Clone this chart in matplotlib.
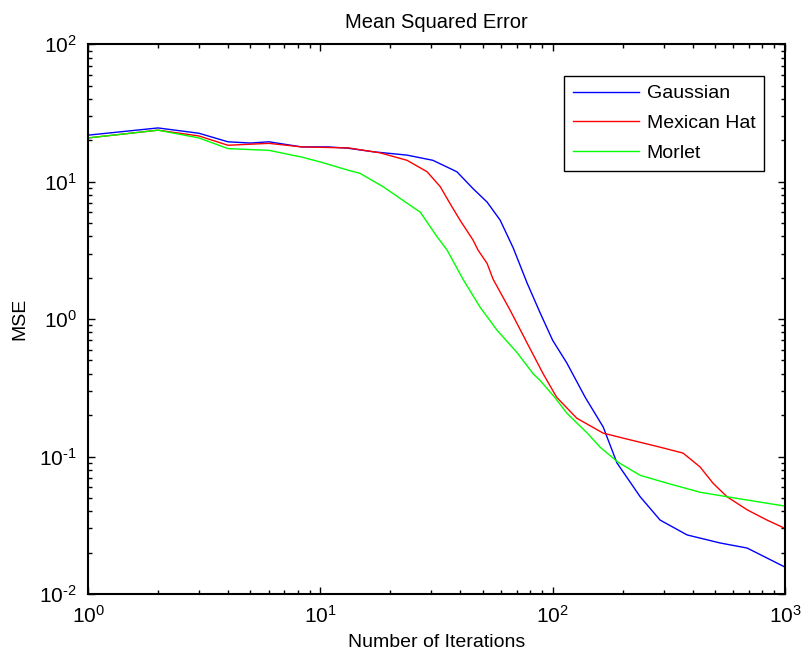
import numpy as np
import matplotlib
matplotlib.use("Agg")
import matplotlib.pyplot as plt
from matplotlib.ticker import FuncFormatter

plt.rcParams['font.family'] = ['Liberation Sans', 'DejaVu Sans']
plt.rcParams['mathtext.fontset'] = 'custom'
plt.rcParams['mathtext.rm'] = 'Liberation Sans'
plt.rcParams['mathtext.it'] = 'Liberation Sans:italic'
plt.rcParams['mathtext.bf'] = 'Liberation Sans:bold'

# iterations / MSE (log-log)
gauss_x = [1, 2, 3, 4, 5, 6, 8.3, 10.8, 13.2, 16.9, 23.6, 30.5, 38.7, 45.4,
           52.2, 59.4, 67.6, 77.6, 88.3, 100, 115, 138, 165, 189, 238, 290,
           379, 526, 687, 1000]
gauss_y = [21.8, 24.6, 22.5, 19.5, 19.1, 19.5, 17.9, 17.9, 17.5, 16.5, 15.6,
           14.3, 11.8, 8.9, 7.1, 5.25, 3.3, 1.83, 1.11, 0.70, 0.48, 0.27,
           0.164, 0.090, 0.051, 0.0345, 0.0269, 0.0235, 0.0216, 0.0157]

mexhat_x = [1, 2, 3, 4, 6, 8.3, 13.2, 18.1, 23.6, 28.8, 32.8, 36.2, 39.9,
            45.4, 47.7, 52.2, 55.4, 65.6, 77.6, 91, 104, 127, 165, 209, 290,
            364, 431, 490, 563, 687, 837, 1000]
mexhat_y = [20.8, 23.7, 21.5, 18.4, 19.0, 17.9, 17.6, 16.2, 14.3, 11.8, 9.2,
            6.9, 5.25, 3.76, 3.18, 2.54, 1.95, 1.16, 0.67, 0.40, 0.27, 0.19,
            0.148, 0.134, 0.117, 0.106, 0.084, 0.064, 0.051, 0.041, 0.0345,
            0.030]

morlet_x = [1, 2, 3, 4, 6, 8.3, 10, 13.2, 14.8, 18.6, 22.7, 26.9, 31.8, 35.1,
            41.1, 48.7, 57.6, 70.3, 82.4, 88, 102, 115, 141, 160, 191, 238,
            311, 431, 563, 729, 1000]
morlet_y = [20.8, 23.7, 20.8, 17.4, 16.9, 15.1, 13.9, 12.1, 11.5, 9.2, 7.3,
            6.0, 3.97, 3.18, 1.95, 1.22, 0.83, 0.57, 0.40, 0.36, 0.27, 0.207,
            0.148, 0.117, 0.091, 0.073, 0.064, 0.055, 0.051, 0.0475, 0.0436]


def decade_label(v, pos):
    # MATLAB-style 10^n, hyphen instead of a minus sign
    e = int(round(np.log10(v)))
    if e < 0:
        return r"$\mathrm{10^{\text{-}%d}}$" % (-e)
    return r"$\mathrm{10^{%d}}$" % e


fig = plt.figure(figsize=(8.01, 6.60), dpi=100)
ax = fig.add_axes([0.110, 0.100, 0.870, 0.833])

ax.loglog(gauss_x, gauss_y, color="#0000ff", linewidth=1, label="Gaussian")
ax.loglog(mexhat_x, mexhat_y, color="#ff0000", linewidth=1, label="Mexican Hat")
ax.loglog(morlet_x, morlet_y, color="#00ff00", linewidth=1, label="Morlet")

ax.set_xlim(1, 1000)
ax.set_ylim(1e-2, 1e2)
ax.xaxis.set_major_formatter(FuncFormatter(decade_label))
ax.yaxis.set_major_formatter(FuncFormatter(decade_label))

ax.tick_params(which="both", direction="in", top=True, right=True,
               labelsize=15, width=1, pad=8)
ax.tick_params(which="major", length=5)
ax.tick_params(which="minor", length=3)
for s in ax.spines.values():
    s.set_linewidth(1.5)

ax.set_title("Mean Squared Error", fontsize=14.5, pad=12)
ax.set_xlabel("Number of Iterations", fontsize=14, labelpad=5)
ax.set_ylabel("MSE", fontsize=14, labelpad=8)

leg = ax.legend(loc="upper right", bbox_to_anchor=(0.970, 0.942),
                fontsize=14, fancybox=False, framealpha=1,
                handlelength=3.4, handletextpad=0.4, borderpad=0.45,
                labelspacing=0.62, borderaxespad=0)
leg.get_frame().set_edgecolor("black")
leg.get_frame().set_linewidth(1)

fig.savefig("out.png", dpi=100)
